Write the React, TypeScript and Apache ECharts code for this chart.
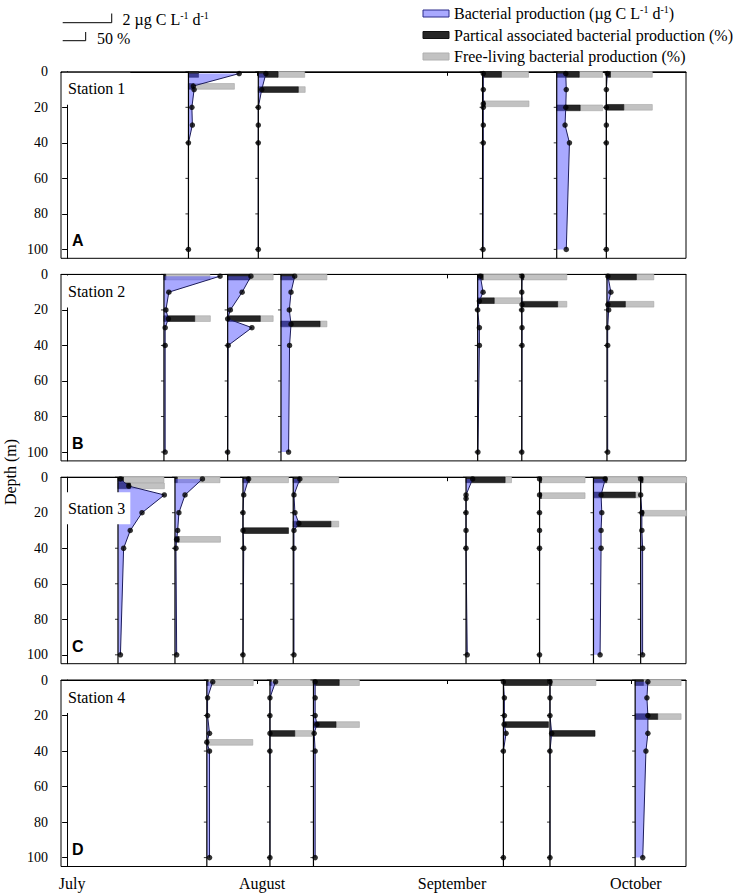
import React, { useEffect, useRef } from 'react';
import * as echarts from 'echarts';

// ---------- data (days counted from 1 July) ----------
const MONTH_LABELS = ['July', 'August', 'September', 'October'];
const MONTH_DAYS = [0, 31, 62, 92];
const DEPTH_TICKS = [0, 20, 40, 60, 80, 100];
const STATION_NAMES = ['Station 1', 'Station 2', 'Station 3', 'Station 4'];
const PANEL_LETTERS = ['A', 'B', 'C', 'D'];
const LEGEND_LABELS = [
  'Bacterial production (µg C L{sup|-1} d{sup|-1})',
  'Partical associated bacterial production (%)',
  'Free-living bacterial production (%)',
];

// Station 1
const S1_DATES = [19.8, 31.2, 67.8, 79.9, 88.0];
const S1_DEPTHS = [
  [1, 8, 10, 20, 30, 40, 100],
  [1, 10, 20, 30, 40, 100],
  [1, 10, 18, 20, 30, 40, 100],
  [1, 10, 20, 30, 40, 100],
  [1, 10, 20, 30, 40, 100],
];
const S1_PROD = [
  [2.07, 0.2, 0.23, 0.14, 0.16, 0, 0],
  [0.31, 0.14, 0, 0, 0, 0],
  [0.03, 0.03, 0.03, 0.03, 0.03, 0.03, 0.02],
  [0.37, 0.39, 0.37, 0.34, 0.52, 0.39],
  [0.04, 0, 0, 0, 0, 0],
];
// [profile, depth, particle-associated %, free-living %]
const S1_BARS = [
  [0, 1.5, 22, 0], [0, 8.2, 11, 89],
  [1, 1.5, 43, 58], [1, 10, 87, 15],
  [2, 1.5, 41, 59], [2, 18, 5, 96],
  [3, 1.5, 49, 51], [3, 20.3, 51, 49],
  [4, 1.5, 9, 91], [4, 20, 38, 62],
];

// Station 2
const S2_DATES = [15.8, 26.2, 34.9, 67.0, 74.2, 88.1];
const S2_DEPTHS = [
  [1, 10, 20, 25, 30, 40, 100],
  [1, 10, 20, 25, 30, 40, 100],
  [1, 10, 20, 28, 40, 100],
  [1, 10, 15, 20, 30, 40, 100],
  [1, 10, 17, 20, 30, 40, 100],
  [1, 10, 17, 20, 30, 40, 100],
];
const S2_PROD = [
  [2.29, 0.2, 0.08, 0.18, 0.05, 0.05, 0.05],
  [0.95, 0.59, 0.11, 0, 0.99, 0.02, 0],
  [0.56, 0.41, 0.34, 0.41, 0.35, 0.31],
  [0.11, 0.22, 0.07, 0, 0.07, 0.07, 0.01],
  [0.01, 0, 0.01, 0, 0.01, 0.01, 0],
  [0.04, 0.16, 0.04, 0.07, 0.03, 0.03, 0.03],
];
const S2_BARS = [
  [0, 1.5, 4, 96], [0, 24.9, 67, 34],
  [1, 1.5, 48, 51], [1, 24.9, 71, 28],
  [2, 1.5, 28, 72], [2, 27.9, 85, 15],
  [3, 1.5, 12, 85], [3, 14.8, 36, 62],
  [4, 1.5, 4, 94], [4, 16.8, 78, 20],
  [5, 1.5, 64, 38], [5, 16.8, 40, 62],
];

// Station 3
const S3_DATES = [8.3, 17.6, 28.7, 36.9, 65.1, 77.1, 85.9, 93.6];
const S3_DEPTHS = [
  [1, 5, 10, 20, 30, 40, 100],
  [1, 10, 20, 30, 35, 40, 100],
  [1, 10, 20, 30, 40, 100],
  [1, 10, 20, 26, 30, 40, 100],
  [1, 10, 12, 20, 30, 40, 100],
  [1, 10, 20, 30, 40, 100],
  [1, 10, 20, 30, 40, 100],
  [1, 10, 20, 30, 40, 100],
];
const S3_PROD = [
  [0.1, 0.44, 1.89, 0.98, 0.5, 0.23, 0.1],
  [1.12, 0.41, 0.16, 0.11, 0.07, 0.04, 0.07],
  [0.23, 0.03, 0, 0, 0.03, 0],
  [0.27, 0.03, 0.07, 0.23, 0.03, 0.03, 0.03],
  [0.27, 0, 0, 0, 0, 0, 0.05],
  [0, 0, 0, 0, 0, 0],
  [0.48, 0.31, 0.34, 0.31, 0.31, 0.27],
  [0, 0, 0.05, 0.05, 0.08, 0.08],
];
const S3_BARS = [
  [0, 1.5, 12, 88], [0, 4.9, 27, 74],
  [1, 1.5, 5, 93], [1, 35, 9, 90],
  [2, 1.5, 14, 85], [2, 30.1, 99, 0],
  [3, 1.5, 15, 84], [3, 26.4, 82, 17],
  [4, 1.5, 85, 14],
  [5, 1.5, 4, 95], [5, 10.4, 4, 95],
  [6, 1.5, 29, 71], [6, 10, 91, 9],
  [7, 1.5, 5, 95], [7, 20.3, 6, 94],
];

// Station 4
const S4_DATES = [22.8, 33.1, 40.2, 71.2, 78.8, 92.7];
const S4_DEPTHS = [
  [1, 10, 20, 30, 35, 40, 100],
  [1, 10, 20, 30, 40, 100],
  [1, 10, 20, 25, 30, 40, 100],
  [1, 10, 20, 25, 30, 40, 100],
  [1, 10, 20, 30, 40, 100],
  [1, 10, 20, 30, 40, 100],
];
const S4_PROD = [
  [0.24, 0.03, 0.03, 0.11, 0, 0.11, 0.11],
  [0.23, 0, 0, 0, 0, 0],
  [0.07, 0.07, 0.07, 0.14, 0.03, 0.07, 0.07],
  [0, 0.04, 0.04, 0.03, 0.11, 0, 0],
  [0, 0, 0, 0.07, 0, 0],
  [0.52, 0.48, 0.52, 0.52, 0.44, 0.31],
];
const S4_BARS = [
  [0, 1.5, 3, 98], [0, 35.1, 3, 97],
  [1, 1.5, 3, 90], [1, 30.1, 54, 38],
  [2, 1.5, 56, 44], [2, 25.1, 49, 51],
  [3, 1.5, 98, 0], [3, 25.1, 98, 0],
  [4, 1.5, 4, 96], [4, 30.1, 98, 0],
  [5, 1.5, 18, 82], [5, 20.6, 49, 51],
];

const ALL_DATES = [S1_DATES, S2_DATES, S3_DATES, S4_DATES];
const ALL_DEPTHS = [S1_DEPTHS, S2_DEPTHS, S3_DEPTHS, S4_DEPTHS];
const ALL_PROD = [S1_PROD, S2_PROD, S3_PROD, S4_PROD];
const ALL_BARS = [S1_BARS, S2_BARS, S3_BARS, S4_BARS];

// ---------- layout / scales ----------
const W = 737;
const H = 896;
const GRID_LEFT = 61;
const GRID_WIDTH = 625;
const GRID_HEIGHT = 186.5;
const GRID_TOPS = [71.8, 274.4, 477.2, 680];
const X_MIN = -1;
const X_MAX = 101;
const Y_MIN = 0;
const Y_MAX = 105;
const DAYS_PER_UG = 4.0; // horizontal scale of production
const DAYS_PER_PCT = 0.075; // horizontal scale of percentage bars
const BAR_DEPTH = 3.2;
const PX_PER_DAY = GRID_WIDTH / (X_MAX - X_MIN);

const SERIF = '"Liberation Serif", "Times New Roman", serif';
const SANS = '"Liberation Sans", Arial, sans-serif';
const BLUE_FILL = 'rgba(84,84,255,0.5)';
const LINE_BLUE = '#1c1c5a';
const BLACK_BAR = '#262626';
const GRAY_BAR = '#c2c2c2';

const SUP_RICH = {
  sup: { fontSize: 10, lineHeight: 10, verticalAlign: 'top', fontFamily: SERIF, fill: '#000' },
};

function buildOption() {
  const grid: any[] = [];
  const xAxis: any[] = [];
  const yAxis: any[] = [];
  const series: any[] = [];
  const graphic: any[] = [];

  for (let i = 0; i < 4; i++) {
    const dates = ALL_DATES[i];
    const depths = ALL_DEPTHS[i];
    const prods = ALL_PROD[i];
    const bars = ALL_BARS[i];

    grid.push({
      left: GRID_LEFT,
      top: GRID_TOPS[i],
      width: GRID_WIDTH,
      height: GRID_HEIGHT,
      show: true,
      borderColor: '#000',
      borderWidth: 1,
      backgroundColor: 'transparent',
      containLabel: false,
      outerBoundsMode: 'none',
    });
    xAxis.push({
      type: 'value',
      gridIndex: i,
      min: X_MIN,
      max: X_MAX,
      axisLine: { show: true, lineStyle: { color: '#000', width: 1 } },
      axisTick: {
        show: true,
        inside: false,
        length: 4,
        customValues: MONTH_DAYS,
        lineStyle: { color: '#000', width: 1 },
      },
      axisLabel: {
        show: i === 3,
        customValues: MONTH_DAYS,
        formatter: (v: number) => MONTH_LABELS[MONTH_DAYS.indexOf(v)] || '',
        fontFamily: SERIF,
        fontSize: 16,
        color: '#000',
        margin: 9,
        padding: [0, 0, 0, 10],
      },
      splitLine: { show: false },
    });
    yAxis.push({
      type: 'value',
      gridIndex: i,
      inverse: true,
      min: Y_MIN,
      max: Y_MAX,
      axisLine: { show: true, lineStyle: { color: '#000', width: 1 } },
      axisTick: {
        show: true,
        inside: false,
        length: 5,
        customValues: DEPTH_TICKS,
        lineStyle: { color: '#000', width: 1 },
      },
      axisLabel: {
        show: true,
        customValues: DEPTH_TICKS,
        fontFamily: SERIF,
        fontSize: 14,
        color: '#000',
        margin: 13,
      },
      splitLine: { show: false },
    });

    // percentage bars
    series.push({
      type: 'custom',
      name: 'bars' + i,
      xAxisIndex: i,
      yAxisIndex: i,
      z: 2,
      silent: true,
      data: bars.map((b) => [dates[b[0]], b[1], b[2], b[3]]),
      renderItem: (params: any, api: any) => {
        const x = api.value(0);
        const d = api.value(1);
        const pa = api.value(2);
        const fl = api.value(3);
        const y0 = api.coord([x, d - BAR_DEPTH / 2])[1];
        const y1 = api.coord([x, d + BAR_DEPTH / 2])[1];
        const x0 = api.coord([x, d])[0];
        const x1 = api.coord([x + pa * DAYS_PER_PCT, d])[0];
        const x2 = api.coord([x + (pa + fl) * DAYS_PER_PCT, d])[0];
        const children: any[] = [];
        if (fl > 0) {
          children.push({
            type: 'rect',
            shape: { x: x1, y: y0, width: x2 - x1, height: y1 - y0 },
            style: { fill: GRAY_BAR, stroke: '#a6a6a6', lineWidth: 0.6 },
          });
        }
        if (pa > 0) {
          children.push({
            type: 'rect',
            shape: { x: x0, y: y0, width: x1 - x0, height: y1 - y0 },
            style: { fill: BLACK_BAR, stroke: '#111', lineWidth: 0.6 },
          });
        }
        return { type: 'group', children };
      },
    });

    // production profiles (fill + line + baseline)
    series.push({
      type: 'custom',
      name: 'profiles' + i,
      xAxisIndex: i,
      yAxisIndex: i,
      z: 3,
      silent: true,
      data: dates.map((dt, k) => [dt, 0, k]),
      renderItem: (params: any, api: any) => {
        const k = params.dataIndex;
        const dt = dates[k];
        const ds = depths[k];
        const ps = prods[k];
        const pts = ds.map((d, j) => api.coord([dt + ps[j] * DAYS_PER_UG, d]));
        const poly = [api.coord([dt, ds[0]]), ...pts, api.coord([dt, ds[ds.length - 1]])];
        const top = api.coord([dt, Y_MIN]);
        const bot = api.coord([dt, Y_MAX]);
        const children: any[] = [
          { type: 'polygon', shape: { points: poly }, style: { fill: BLUE_FILL, stroke: null } },
          {
            type: 'polyline',
            shape: { points: pts },
            style: { stroke: LINE_BLUE, lineWidth: 1, fill: null },
          },
          {
            type: 'line',
            shape: { x1: top[0], y1: top[1], x2: bot[0], y2: bot[1] },
            style: { stroke: '#000', lineWidth: 1.2 },
          },
        ];
        DEPTH_TICKS.forEach((t) => {
          const p = api.coord([dt, t]);
          children.push({
            type: 'line',
            shape: { x1: p[0] - 3, y1: p[1], x2: p[0], y2: p[1] },
            style: { stroke: '#000', lineWidth: 0.8 },
          });
        });
        return { type: 'group', children };
      },
    });

    // sample points
    const pointData: number[][] = [];
    dates.forEach((dt, k) => {
      depths[k].forEach((d, j) => pointData.push([dt + prods[k][j] * DAYS_PER_UG, d]));
    });
    series.push({
      type: 'scatter',
      name: 'points' + i,
      xAxisIndex: i,
      yAxisIndex: i,
      z: 4,
      silent: true,
      symbol: 'circle',
      symbolSize: 5.5,
      itemStyle: { color: '#000' },
      data: pointData,
    });

    // station name & panel letter
    const top = GRID_TOPS[i];
    graphic.push({
      type: 'text',
      x: 62,
      y: i === 2 ? top + 31 : top + 17,
      z: 100,
      style: {
        text: STATION_NAMES[i],
        fontFamily: SERIF,
        fontSize: 16,
        lineHeight: 18,
        fill: '#000',
        align: 'left',
        verticalAlign: 'middle',
        backgroundColor: '#fff',
        padding: [7, 5, 7, 6],
      },
    });
    graphic.push({
      type: 'text',
      x: 72,
      y: top + 169,
      z: 100,
      style: {
        text: PANEL_LETTERS[i],
        fontFamily: SANS,
        fontWeight: 'bold',
        fontSize: 16,
        fill: '#000',
        align: 'left',
        verticalAlign: 'middle',
      },
    });
  }

  // depth axis title
  graphic.push({
    type: 'text',
    x: 10,
    y: 472,
    rotation: Math.PI / 2,
    z: 100,
    style: {
      text: 'Depth (m)',
      fontFamily: SERIF,
      fontSize: 16,
      fill: '#000',
      align: 'center',
      verticalAlign: 'middle',
    },
  });

  // scale bars (top left)
  const ugLen = 2 * DAYS_PER_UG * PX_PER_DAY;
  const pctLen = 50 * DAYS_PER_PCT * PX_PER_DAY;
  graphic.push({
    type: 'polyline',
    z: 100,
    shape: { points: [[62.7, 22.7], [62.7 + ugLen, 22.7], [62.7 + ugLen, 13.5]] },
    style: { stroke: '#000', lineWidth: 1, fill: null },
  });
  graphic.push({
    type: 'polyline',
    z: 100,
    shape: { points: [[62.7, 40.7], [62.7 + pctLen, 40.7], [62.7 + pctLen, 32]] },
    style: { stroke: '#000', lineWidth: 1, fill: null },
  });
  graphic.push({
    type: 'text',
    x: 122.5,
    y: 19.5,
    z: 100,
    style: {
      text: '2 µg C L{sup|-1} d{sup|-1}',
      fontFamily: SERIF,
      fontSize: 16,
      lineHeight: 18,
      fill: '#000',
      align: 'left',
      verticalAlign: 'middle',
      rich: SUP_RICH,
    },
  });
  graphic.push({
    type: 'text',
    x: 97,
    y: 38.5,
    z: 100,
    style: {
      text: '50 %',
      fontFamily: SERIF,
      fontSize: 16,
      fill: '#000',
      align: 'left',
      verticalAlign: 'middle',
    },
  });

  // legend (top right)
  const legendY = [13.5, 35, 56.5];
  const legendFill = [BLUE_FILL, BLACK_BAR, GRAY_BAR];
  const legendStroke = ['#2a2a8a', '#111', '#b0b0b0'];
  LEGEND_LABELS.forEach((lab, k) => {
    graphic.push({
      type: 'rect',
      z: 100,
      shape: { x: 423, y: legendY[k] - 3.5, width: 26, height: 7 },
      style: { fill: legendFill[k], stroke: legendStroke[k], lineWidth: 1 },
    });
    graphic.push({
      type: 'text',
      x: 454,
      y: legendY[k],
      z: 100,
      style: {
        text: lab,
        fontFamily: SERIF,
        fontSize: 16,
        lineHeight: 18,
        fill: '#000',
        align: 'left',
        verticalAlign: 'middle',
        rich: SUP_RICH,
      },
    });
  });

  return {
    animation: false,
    backgroundColor: '#fff',
    grid,
    xAxis,
    yAxis,
    series,
    graphic,
  };
}

export default function App() {
  const ref = useRef<HTMLDivElement>(null);
  useEffect(() => {
    if (!ref.current) return;
    const chart = echarts.init(ref.current, null, { renderer: 'svg', width: W, height: H });
    chart.setOption(buildOption() as any);
    return () => chart.dispose();
  }, []);
  return (
    <div
      ref={ref}
      style={{ position: 'absolute', left: 0, top: 0, width: W, height: H, background: '#fff' }}
    />
  );
}
